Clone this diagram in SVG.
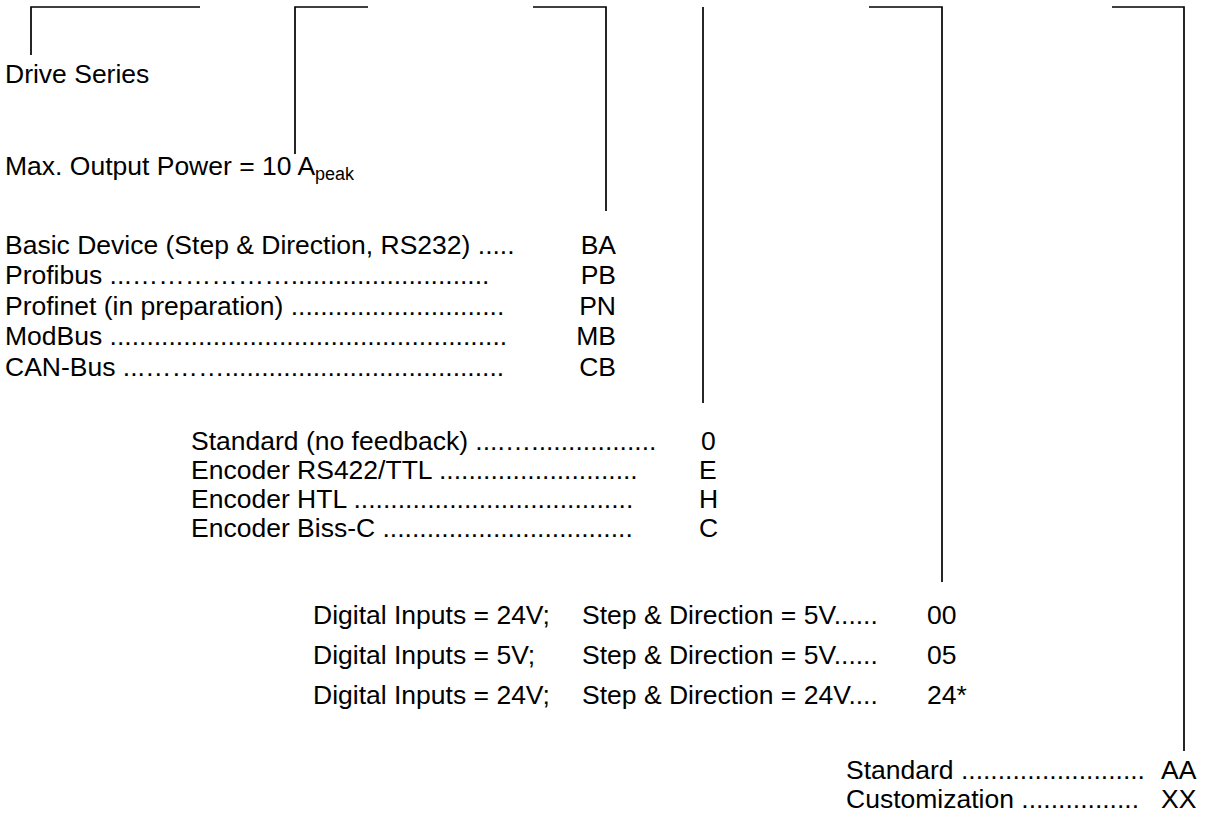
<svg xmlns="http://www.w3.org/2000/svg" width="1209" height="823" viewBox="0 0 1209 823">
<style>
.t{font-family:"Liberation Sans",Arial,sans-serif;font-size:26.5px;fill:#000}
.e{text-anchor:end}
.c{fill:none;stroke:#000;stroke-width:1.7}
</style>
<rect width="1209" height="823" fill="#fff"/>
<g id="connectors">
<path class="c" d="M200 7H31V55"/>
<path class="c" d="M368 7H295V154"/>
<path class="c" d="M533 7H606V211"/>
<path class="c" d="M703 7V403"/>
<path class="c" d="M869 7H942V582"/>
<path class="c" d="M1112 7H1184V751"/>
</g>
<g id="series"><text class="t" x="5" y="83">Drive Series</text></g>
<g id="power"><text class="t" x="5" y="175">Max. Output Power = 10 A<tspan font-size="18" dy="5">peak</tspan></text></g>
<g id="bus">
<text class="t" x="5" y="254">Basic Device (Step &amp; Direction, RS232) .....</text>
<text class="t" x="5" y="284">Profibus ...………………...........................</text>
<text class="t" x="5" y="315">Profinet (in preparation) .............................</text>
<text class="t" x="5" y="345">ModBus ......................................................</text>
<text class="t" x="5" y="376">CAN-Bus ...………......................................</text>
<text class="t e" x="616" y="254">BA</text>
<text class="t e" x="616" y="284">PB</text>
<text class="t e" x="616" y="315">PN</text>
<text class="t e" x="616" y="345">MB</text>
<text class="t e" x="616" y="376">CB</text>
</g>
<g id="feedback">
<text class="t" x="191" y="450">Standard (no feedback) ....….................</text>
<text class="t" x="191" y="479">Encoder RS422/TTL ...........................</text>
<text class="t" x="191" y="508">Encoder HTL ......................................</text>
<text class="t" x="191" y="537">Encoder Biss-C ..................................</text>
<text class="t" x="701" y="450">0</text>
<text class="t" x="699" y="479">E</text>
<text class="t" x="699" y="508">H</text>
<text class="t" x="699" y="537">C</text>
</g>
<g id="io">
<text class="t" x="313" y="624">Digital Inputs = 24V;</text>
<text class="t" x="582" y="624">Step &amp; Direction = 5V......</text>
<text class="t" x="927" y="624">00</text>
<text class="t" x="313" y="664">Digital Inputs = 5V;</text>
<text class="t" x="582" y="664">Step &amp; Direction = 5V......</text>
<text class="t" x="927" y="664">05</text>
<text class="t" x="313" y="704">Digital Inputs = 24V;</text>
<text class="t" x="582" y="704">Step &amp; Direction = 24V....</text>
<text class="t" x="927" y="704">24*</text>
</g>
<g id="custom">
<text class="t" x="846" y="779">Standard .........................</text>
<text class="t" x="846" y="808">Customization ................</text>
<text class="t" x="1161" y="779">AA</text>
<text class="t" x="1161" y="808">XX</text>
</g>
</svg>
